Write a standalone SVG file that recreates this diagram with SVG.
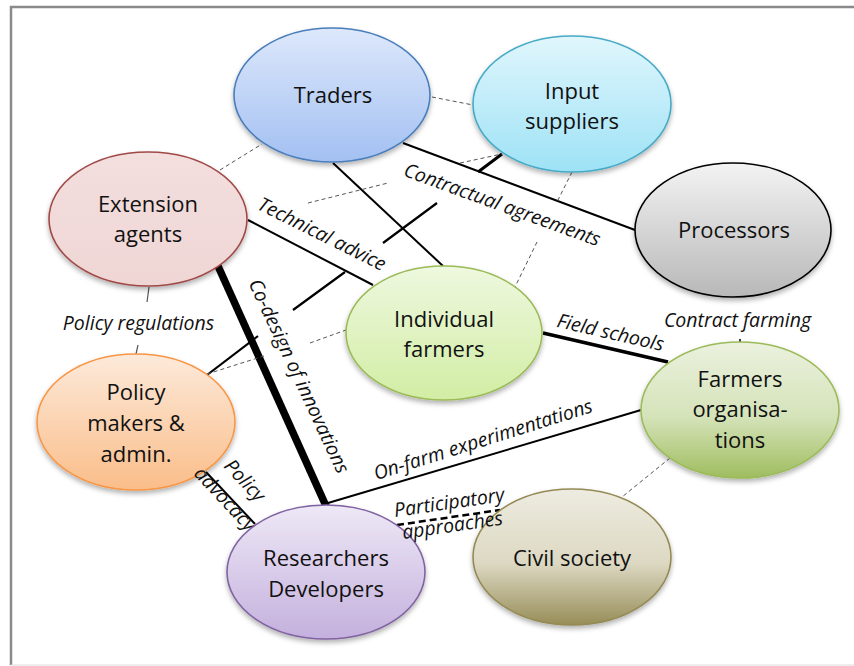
<svg xmlns="http://www.w3.org/2000/svg" width="854" height="666" viewBox="0 0 854 666">
<defs>
<style>
.node text{font-family:"Open Sans","Liberation Sans",sans-serif;font-size:22px;fill:#111;text-anchor:middle}
.lbl{font-family:"Open Sans","Liberation Sans",sans-serif;font-size:19.5px;font-style:italic;fill:#111;text-anchor:middle}
.ln{stroke:#000;fill:none}
.dsh{stroke:#555;stroke-width:1;stroke-dasharray:4 3;fill:none}
.node ellipse{stroke-width:1.6;filter:url(#sh)}
</style>
<filter id="sh" x="-20%" y="-20%" width="140%" height="150%">
<feDropShadow dx="0" dy="3" stdDeviation="2.5" flood-color="#000" flood-opacity="0.3"/>
</filter>
<linearGradient id="gTr" x1="0" y1="0" x2="0" y2="1"><stop offset="0" stop-color="#dde8fb"/><stop offset="1" stop-color="#a3c0f2"/></linearGradient>
<linearGradient id="gIn" x1="0" y1="0" x2="0" y2="1"><stop offset="0" stop-color="#e0f6fc"/><stop offset="1" stop-color="#9ee2f6"/></linearGradient>
<linearGradient id="gPr" x1="0" y1="0" x2="0" y2="1"><stop offset="0" stop-color="#f3f3f3"/><stop offset="1" stop-color="#b8b8b8"/></linearGradient>
<linearGradient id="gEx" x1="0" y1="0" x2="0" y2="1"><stop offset="0" stop-color="#f3dfde"/><stop offset="1" stop-color="#efd6d5"/></linearGradient>
<linearGradient id="gIF" x1="0" y1="0" x2="0" y2="1"><stop offset="0" stop-color="#eef8df"/><stop offset="1" stop-color="#d2eda4"/></linearGradient>
<linearGradient id="gPo" x1="0" y1="0" x2="0" y2="1"><stop offset="0" stop-color="#fdeadb"/><stop offset="1" stop-color="#fabd89"/></linearGradient>
<linearGradient id="gRe" x1="0" y1="0" x2="0" y2="1"><stop offset="0" stop-color="#eee8f6"/><stop offset="1" stop-color="#c4b0dd"/></linearGradient>
<linearGradient id="gFO" x1="0" y1="0" x2="0" y2="1"><stop offset="0" stop-color="#ebf1de"/><stop offset="0.55" stop-color="#d5e3b9"/><stop offset="1" stop-color="#9fbd5f"/></linearGradient>
<linearGradient id="gCi" x1="0" y1="0" x2="0" y2="1"><stop offset="0" stop-color="#eeece1"/><stop offset="0.55" stop-color="#dcd8c2"/><stop offset="1" stop-color="#978d58"/></linearGradient>
</defs>
<rect x="0" y="0" width="854" height="666" fill="#fff"/>
<g id="frame">
<path d="M11,665 V7 H854" fill="none" stroke="#8a8a8a" stroke-width="2.5"/>
<path d="M11,665 H854" fill="none" stroke="#dcdcdc" stroke-width="1"/>
</g>
<g id="connectors">
<path class="ln" style="stroke-width:2" d="M248,220 L373,285"/>
<path class="ln" style="stroke-width:2" d="M403,143 L635,230"/>
<path class="ln" style="stroke-width:2" d="M333,163 L443,266"/>
<path class="ln" style="stroke-width:2" d="M206,472 L255,524"/>
<path class="ln" style="stroke-width:2" d="M328,503 L641,410"/>
<path class="ln" style="stroke-width:2.2" d="M207,375 L258,336 M293,310 L345,272 M383,243 L437,203"/>
<path class="ln" style="stroke-width:3" d="M478,172 L502,154"/>
<path class="ln" style="stroke-width:3.5" d="M543,333 L668,362"/>
<path class="ln" style="stroke-width:7.5" d="M218,266 L326,506"/>
<path class="ln" style="stroke-width:2.5;stroke-dasharray:7 4" d="M397,525 L500,510"/>
<path class="ln" style="stroke-width:1.5" d="M740,339 L740,342"/>
<path class="dsh" d="M220,170 L262,144"/>
<path class="dsh" d="M432,97 L473,105"/>
<path class="dsh" d="M308,203 L388,183 M460,163 L502,154"/>
<path class="dsh" d="M207,374 L264,356 M310,343 L346,330"/>
<path class="dsh" d="M572,172 L557,202 M537,242 L515,287"/>
<path class="dsh" d="M670,458 L622,497"/>
<path d="M149,287 L147,302 M138,345 L136,354" fill="none" stroke="#555" stroke-width="1.2"/>
</g>
<g id="policy-makers" class="node"><ellipse cx="136" cy="422" rx="99" ry="68" fill="url(#gPo)" stroke="#f79646"/><text x="136" y="400">Policy</text><text x="136" y="431">makers &amp;</text><text x="136" y="462">admin.</text></g>
<g id="labels">
<text class="lbl" transform="translate(319,240) rotate(26.5)">Technical advice</text>
<text class="lbl" transform="translate(500,211) rotate(20)">Contractual agreements</text>
<text class="lbl" transform="translate(293,379) rotate(65)">Co-design of innovations</text>
<text class="lbl" x="138.5" y="330">Policy regulations</text>
<text class="lbl" x="737.5" y="327">Contract farming</text>
<text class="lbl" transform="translate(609,339) rotate(13)">Field schools</text>
<text class="lbl" transform="translate(485,446) rotate(-17.5)">On-farm experimentations</text>
<text class="lbl" transform="translate(240,485) rotate(47)"><tspan x="0" y="0">Policy</tspan><tspan x="0" y="27">advocacy</tspan></text>
</g>
<g id="traders" class="node"><ellipse cx="332" cy="95" rx="98" ry="67" fill="url(#gTr)" stroke="#4a7ebb"/><text x="333" y="103">Traders</text></g>
<g id="input-suppliers" class="node"><ellipse cx="572" cy="104" rx="99" ry="68" fill="url(#gIn)" stroke="#46aac5"/><text x="572" y="99">Input</text><text x="572" y="129">suppliers</text></g>
<g id="processors" class="node"><ellipse cx="733" cy="230" rx="98" ry="67" fill="url(#gPr)" stroke="#000"/><text x="734" y="238">Processors</text></g>
<g id="extension-agents" class="node"><ellipse cx="148" cy="219" rx="99" ry="67" fill="url(#gEx)" stroke="#a04a48"/><text x="148" y="212">Extension</text><text x="148" y="242">agents</text></g>
<g id="individual-farmers" class="node"><ellipse cx="444" cy="333" rx="98" ry="67" fill="url(#gIF)" stroke="#9bbb59"/><text x="444" y="327">Individual</text><text x="444" y="357">farmers</text></g>
<g id="researchers" class="node"><ellipse cx="326" cy="572" rx="99" ry="67" fill="url(#gRe)" stroke="#8064a2"/><text x="326" y="566">Researchers</text><text x="326" y="597">Developers</text></g>
<g id="farmers-organisations" class="node"><ellipse cx="740" cy="410" rx="99" ry="68" fill="url(#gFO)" stroke="#9bbb59"/><text x="740" y="387">Farmers</text><text x="740" y="417">organisa-</text><text x="740" y="448">tions</text></g>
<g id="civil-society" class="node"><ellipse cx="572" cy="557" rx="99" ry="68" fill="url(#gCi)" stroke="#948a54"/><text x="572" y="566">Civil society</text></g>
<g id="labels-top">
<text class="lbl" transform="translate(450,509) rotate(-8.3)"><tspan x="0" y="0">Participatory</tspan><tspan x="0" y="23">approaches</tspan></text>
</g>
</svg>
